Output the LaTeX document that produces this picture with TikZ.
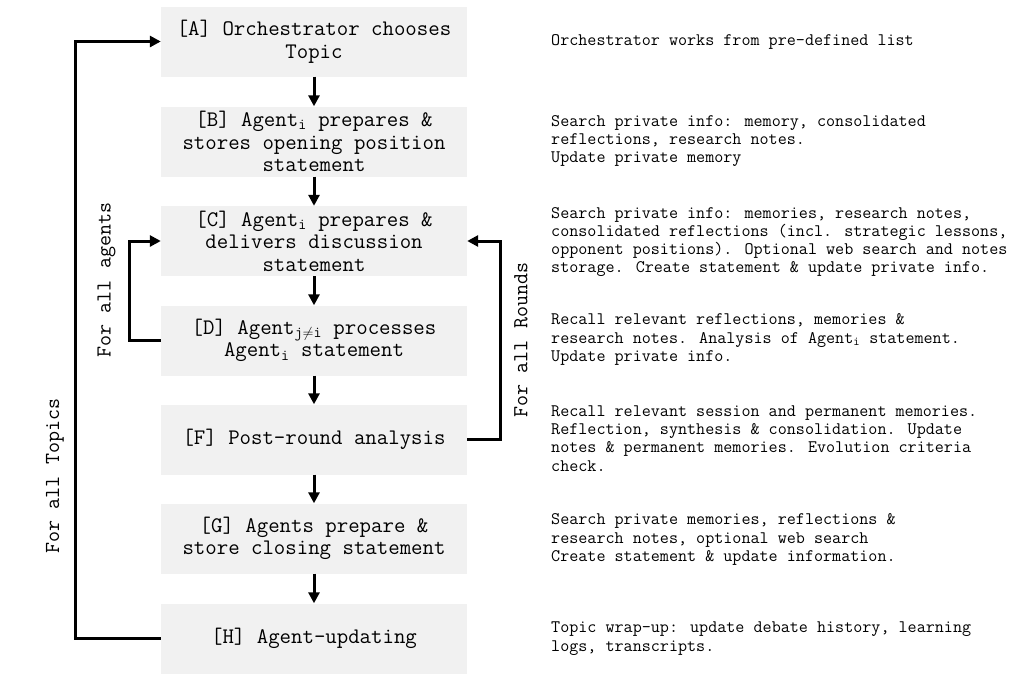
\documentclass[tikz,border=0pt]{standalone}
\usepackage{fontspec}
\usetikzlibrary{arrows.meta}
\definecolor{boxgray}{HTML}{F1F1F1}
\newcommand{\boxfont}{\ttfamily\fontsize{22.2}{22.6}\selectfont}
\newcommand{\descfont}{\ttfamily\fontsize{17.6}{18.3}\selectfont}
\newcommand{\labfont}{\ttfamily\fontsize{21.4}{22}\selectfont}
\newcommand{\sbs}[1]{\textsubscript{#1}}
\tikzset{
  stepbox/.style={fill=boxgray, draw=none, minimum width=306pt, minimum height=70pt,
    inner sep=0pt, align=center, font=\boxfont},
  desc/.style={anchor=west, align=left, inner sep=0pt, font=\descfont},
  looplabel/.style={rotate=90, inner sep=0pt, font=\labfont},
  arr/.style={line width=3pt, -{Triangle[length=11pt,width=11pt]}},
}
\begin{document}
\begin{tikzpicture}[x=1pt,y=-1pt]
\useasboundingbox (0,0) rectangle (1025,683);
% steps
\node[stepbox] (A) at (314,41.5) {[A] Orchestrator chooses\\Topic};
\node[stepbox] (B) at (314,141.5) {[B] Agent\sbs{i} prepares \&\\stores opening position\\statement};
\node[stepbox] (C) at (314,241) {[C] Agent\sbs{i} prepares \&\\delivers discussion\\statement};
\node[stepbox] (D) at (314,340.5) {[D] Agent\sbs{j$\neq$i} processes\\Agent\sbs{i} statement};
\node[stepbox] (F) at (314,439.5) {[F] Post-round analysis};
\node[stepbox] (G) at (314,538.5) {[G] Agents prepare \&\\store closing statement};
\node[stepbox] (H) at (314,638.5) {[H] Agent-updating};
% descriptions
\node[desc] (dA) at (551,41.5) {Orchestrator works from pre-defined list};
\node[desc] (dB) at (551,141) {Search private info: memory, consolidated\\reflections, research notes.\\Update private memory};
\node[desc] (dC) at (551,242) {Search private info: memories, research notes,\\consolidated reflections (incl. strategic lessons,\\opponent positions). Optional web search and notes\\storage. Create statement \& update private info.};
\node[desc] (dD) at (551,339.5) {Recall relevant reflections, memories \&\\research notes. Analysis of Agent\sbs{i} statement.\\Update private info.};
\node[desc] (dF) at (551,438.5) {Recall relevant session and permanent memories.\\Reflection, synthesis \& consolidation. Update\\notes \& permanent memories. Evolution criteria\\check.};
\node[desc] (dG) at (551,539.5) {Search private memories, reflections \&\\research notes, optional web search\\Create statement \& update information.};
\node[desc] (dH) at (551,638.5) {Topic wrap-up: update debate history, learning\\logs, transcripts.};
% main flow
\draw[arr] (A) -- (B);
\draw[arr] (B) -- (C);
\draw[arr] (C) -- (D);
\draw[arr] (D) -- (F);
\draw[arr] (F) -- (G);
\draw[arr] (G) -- (H);
% loops
\coordinate (lx) at (75.7,0);
\coordinate (ix) at (129,0);
\coordinate (rx) at (500.5,0);
\draw[arr] (H.west) -- (H.west -| lx) |- (A.west);
\draw[arr] (D.west) -- (D.west -| ix) |- (C.west);
\draw[arr] (F.east) -- (F.east -| rx) |- (C.east);
% loop labels
\node[looplabel] (lt) at (55,476) {For all Topics};
\node[looplabel] (la) at (106.5,280) {For all agents};
\node[looplabel] (lr) at (521,340) {For all Rounds};
\end{tikzpicture}
\end{document}
